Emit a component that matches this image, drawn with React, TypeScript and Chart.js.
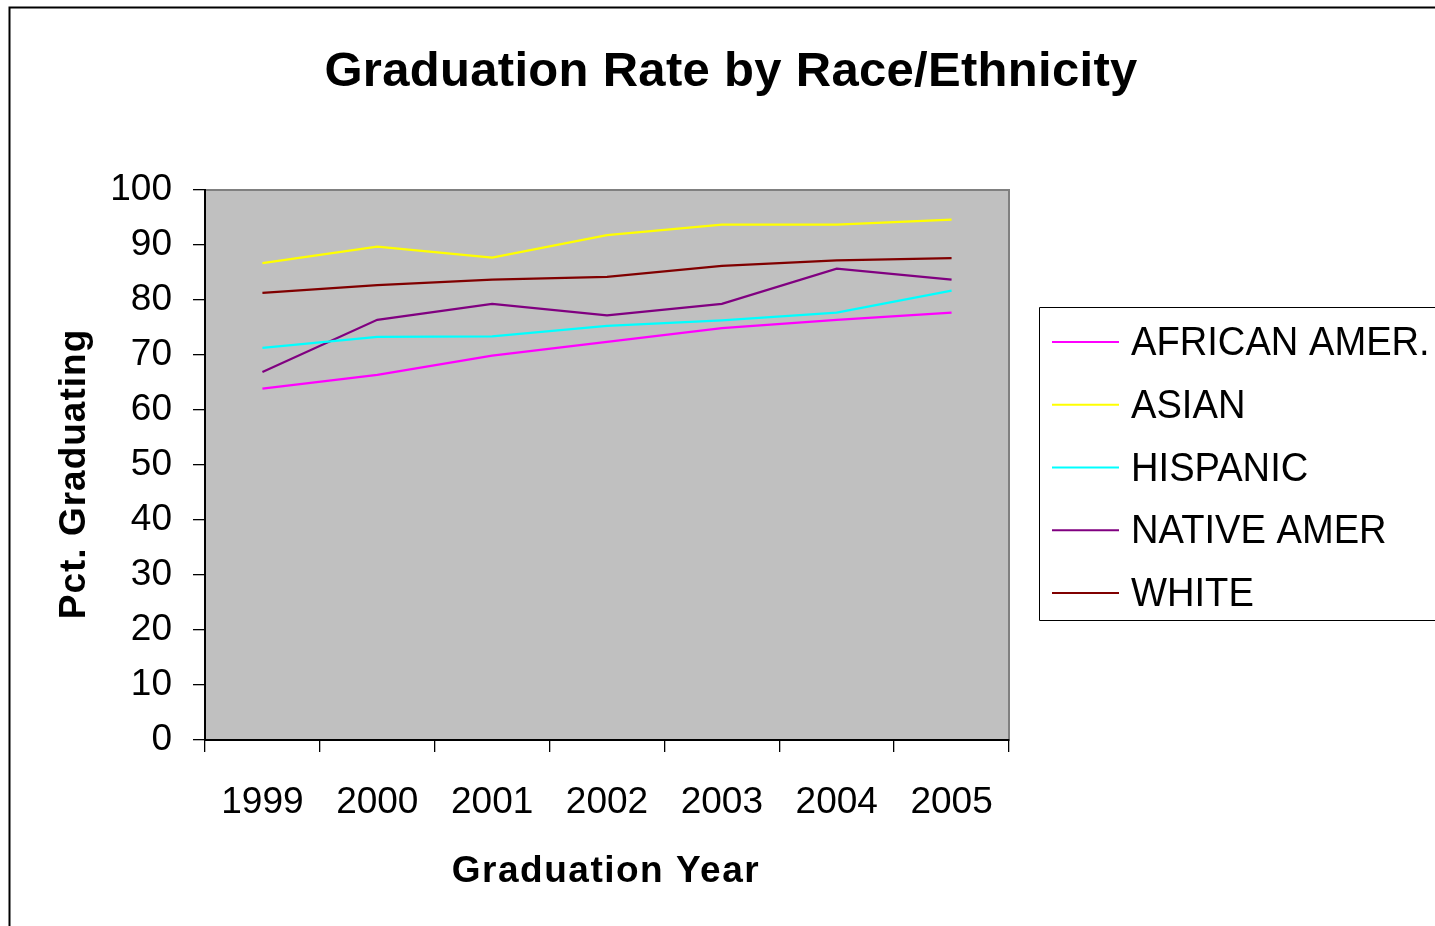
import React, { useEffect, useRef } from 'react';
import { Chart, registerables } from 'chart.js';
Chart.register(...registerables);

const years = ['1999', '2000', '2001', '2002', '2003', '2004', '2005'];
const africanAmer = [63.9, 66.4, 69.9, 72.4, 74.9, 76.4, 77.7];
const asian = [86.7, 89.7, 87.7, 91.8, 93.7, 93.7, 94.6];
const hispanic = [71.3, 73.3, 73.4, 75.3, 76.3, 77.7, 81.7];
const nativeAmer = [66.9, 76.4, 79.3, 77.2, 79.3, 85.7, 83.7];
const white = [81.3, 82.7, 83.7, 84.2, 86.2, 87.2, 87.6];
const seriesNames = ['AFRICAN AMER.', 'ASIAN', 'HISPANIC', 'NATIVE AMER', 'WHITE'];
const seriesColors = ['#FF00FF', '#FFFF00', '#00FFFF', '#800080', '#800000'];
const chartTitle = 'Graduation Rate by Race/Ethnicity';
const xTitle = 'Graduation Year';
const yTitle = 'Pct. Graduating';

const FONT = '"Liberation Sans", Arial, Helvetica, sans-serif';

const decorPlugin = {
  id: 'decor',
  beforeDraw(chart: any) {
    const { ctx, chartArea } = chart;
    const { left, top, right, bottom } = chartArea;
    ctx.save();
    ctx.fillStyle = '#ffffff';
    ctx.fillRect(0, 0, chart.width, chart.height);
    // outer border
    ctx.strokeStyle = '#000000';
    ctx.lineWidth = 2;
    ctx.beginPath();
    ctx.moveTo(9.5, chart.height + 5);
    ctx.lineTo(9.5, 7.5);
    ctx.lineTo(chart.width + 5, 7.5);
    ctx.stroke();
    // plot background
    ctx.fillStyle = '#C0C0C0';
    ctx.fillRect(left, top, right - left, bottom - top);
    ctx.strokeStyle = '#808080';
    ctx.lineWidth = 2;
    ctx.strokeRect(left, top, right - left, bottom - top);
    ctx.restore();
  },
  afterDraw(chart: any) {
    const { ctx } = chart;
    ctx.save();
    ctx.fillStyle = '#000000';
    // main title
    ctx.font = `bold 49px ${FONT}`;
    ctx.textAlign = 'center';
    ctx.textBaseline = 'alphabetic';
    (ctx as any).letterSpacing = '0.3px';
    ctx.fillText(chartTitle, 731, 86);
    // x title
    ctx.font = `bold 37px ${FONT}`;
    (ctx as any).letterSpacing = '1.5px';
    ctx.fillText(xTitle, 606, 882);
    // y title
    (ctx as any).letterSpacing = '1px';
    ctx.save();
    ctx.translate(85, 474);
    ctx.rotate(-Math.PI / 2);
    ctx.fillText(yTitle, 0, 0);
    ctx.restore();
    (ctx as any).letterSpacing = '0px';
    // legend
    const lx = 1039.5, ly = 307.5, lh = 313;
    ctx.strokeStyle = '#000000';
    ctx.lineWidth = 1;
    ctx.beginPath();
    ctx.moveTo(chart.width + 5, ly);
    ctx.lineTo(lx, ly);
    ctx.lineTo(lx, ly + lh);
    ctx.lineTo(chart.width + 5, ly + lh);
    ctx.stroke();
    chart.data.datasets.forEach((ds: any, i: number) => {
      const cy = 342 + i * 62.75;
      ctx.strokeStyle = ds.borderColor;
      ctx.lineWidth = 2;
      ctx.beginPath();
      ctx.moveTo(1052, cy);
      ctx.lineTo(1119, cy);
      ctx.stroke();
      ctx.save();
      ctx.translate(1131, cy + 13);
      ctx.scale(0.93, 1);
      ctx.font = `41px ${FONT}`;
      ctx.textAlign = 'left';
      ctx.textBaseline = 'alphabetic';
      ctx.fillStyle = '#000000';
      ctx.fillText(ds.label, 0, 0);
      ctx.restore();
    });
    ctx.restore();
  },
};

export default function App() {
  const ref = useRef<HTMLCanvasElement>(null);
  useEffect(() => {
    if (!ref.current) return;
    const seriesData = [africanAmer, asian, hispanic, nativeAmer, white];
    const chart = new Chart(ref.current, {
      type: 'line',
      data: {
        labels: years,
        datasets: seriesNames.map((name, i) => ({
          label: name,
          data: seriesData[i],
          borderColor: seriesColors[i],
          backgroundColor: seriesColors[i],
          borderWidth: 2.2,
          pointRadius: 0,
          tension: 0,
          fill: false,
        })),
      },
      options: {
        responsive: false,
        animation: false,
        layout: { padding: { left: 0, top: 190, right: 426, bottom: 0 } },
        plugins: {
          legend: { display: false },
          title: { display: false },
          tooltip: { enabled: false },
        },
        scales: {
          x: {
            offset: true,
            afterFit: (s: any) => { s.height = 186; },
            grid: {
              offset: true,
              drawOnChartArea: false,
              drawTicks: true,
              tickLength: 12,
              color: '#000000',
              lineWidth: 1.3,
            },
            border: { display: true, color: '#000000', width: 2 },
            ticks: {
              color: '#000000',
              font: { family: FONT, size: 37 },
              padding: 29,
              maxRotation: 0,
              autoSkip: false,
            },
          },
          y: {
            min: 0,
            max: 100,
            afterFit: (s: any) => { s.width = 205; },
            grid: {
              drawOnChartArea: false,
              drawTicks: true,
              tickLength: 12,
              color: '#000000',
              lineWidth: 1.3,
            },
            border: { display: true, color: '#000000', width: 2 },
            ticks: {
              stepSize: 10,
              color: '#000000',
              font: { family: FONT, size: 37 },
              padding: 21,
            },
          },
        },
      },
      plugins: [decorPlugin],
    });
    return () => chart.destroy();
  }, []);
  return (
    <canvas
      ref={ref}
      width={1435}
      height={926}
      style={{ position: 'absolute', left: 0, top: 0, width: 1435, height: 926 }}
    />
  );
}
